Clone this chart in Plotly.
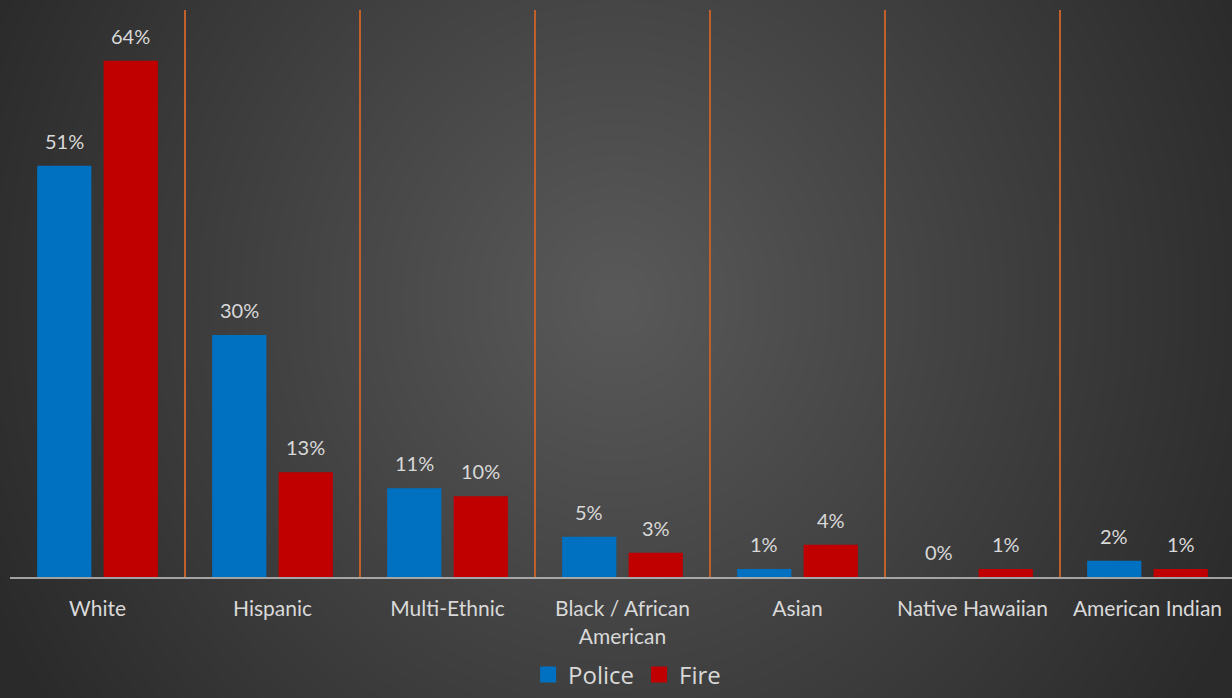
import numpy as np
import plotly.graph_objects as go

# Workforce composition by race / ethnicity (percent)
categories = ["White", "Hispanic", "Multi-Ethnic", "Black / African<br>American",
              "Asian", "Native Hawaiian", "American Indian"]
police = [51, 30, 11, 5, 1, 0, 2]
fire = [64, 13, 10, 3, 4, 1, 1]

W, H = 1232, 698
BLUE = "#0070C0"
RED = "#C00000"
TEXT = "#D9D9D9"
GRID = "#C0602A"

# Bar geometry in category units
BAR_W = 0.31
OFF_POLICE = -0.345
OFF_FIRE = 0.035

fig = go.Figure()

# Radial dark-gray backdrop, drawn on a full-page helper subplot
gx = np.linspace(0, W, 90)
gy = np.linspace(0, H, 52)
X, Y = np.meshgrid(gx, gy)
r = np.sqrt(((X - 616) / 690) ** 2 + ((Y - 300) / 720) ** 2)
shade = 1 - np.clip(r, 0, 1)
fig.add_trace(go.Heatmap(
    x=gx, y=gy, z=shade, zmin=0, zmax=1, zsmooth="best",
    colorscale=[[0, "rgb(42,42,42)"], [1, "rgb(89,89,89)"]],
    showscale=False, hoverinfo="skip", xaxis="x", yaxis="y",
))

xpos = list(range(len(categories)))

fig.add_trace(go.Bar(
    x=xpos, y=police, name="Police", width=BAR_W, offset=OFF_POLICE,
    marker=dict(color=BLUE, line=dict(width=0)), showlegend=False,
    xaxis="x2", yaxis="y2", hoverinfo="skip",
))
fig.add_trace(go.Bar(
    x=xpos, y=fire, name="Fire", width=BAR_W, offset=OFF_FIRE,
    marker=dict(color=RED, line=dict(width=0)), showlegend=False,
    xaxis="x2", yaxis="y2", hoverinfo="skip",
))

# Legend entries with larger square swatches
for name, color in (("Police", BLUE), ("Fire", RED)):
    fig.add_trace(go.Scatter(
        x=[None], y=[None], mode="markers", name=name,
        marker=dict(symbol="square", size=16, color=color),
        xaxis="x2", yaxis="y2",
    ))

# Percentage labels above each bar
annotations = []
for series, off in ((police, OFF_POLICE), (fire, OFF_FIRE)):
    for i, v in enumerate(series):
        annotations.append(dict(
            x=i + off + BAR_W / 2, y=v, xref="x2", yref="y2",
            text=f"{v}%", showarrow=False, yanchor="bottom", yshift=11,
            font=dict(family="Lato", size=20, color=TEXT),
        ))

fig.update_layout(
    width=W, height=H,
    margin=dict(l=0, r=0, t=0, b=0, autoexpand=False),
    paper_bgcolor="#2a2a2a",
    plot_bgcolor="rgba(0,0,0,0)",
    barmode="group",
    annotations=annotations,
    xaxis=dict(domain=[0, 1], range=[0, W], visible=False, fixedrange=True,
               automargin=False),
    yaxis=dict(domain=[0, 1], range=[H, 0], visible=False, fixedrange=True,
               automargin=False),
    xaxis2=dict(
        domain=[10 / W, 1], anchor="y2", range=[-0.5001, 6.483],
        tickmode="array", tickvals=xpos, ticktext=categories,
        showgrid=False, zeroline=False, ticks="",
        tickfont=dict(family="Lato", size=21, color=TEXT),
        ticklabelstandoff=12, automargin=False,
        showline=True, linecolor="rgba(200,200,200,0.75)", linewidth=2,
        minor=dict(tickvals=[i - 0.5 for i in xpos], showgrid=True,
                   gridcolor=GRID, gridwidth=1.5, ticks=""),
        fixedrange=True,
    ),
    yaxis2=dict(
        domain=[121 / H, 1 - 10 / H], anchor="x2", range=[0, 70.3],
        showgrid=False, zeroline=False, showticklabels=False, ticks="",
        fixedrange=True, automargin=False,
    ),
    legend=dict(
        orientation="h", x=0.509, xanchor="center", y=0.033, yanchor="middle",
        font=dict(family="Open Sans", size=24, color=TEXT),
        bgcolor="rgba(0,0,0,0)", itemclick=False, itemdoubleclick=False,
    ),
    showlegend=True,
)

fig.write_html("out.html", config={"displayModeBar": False})
